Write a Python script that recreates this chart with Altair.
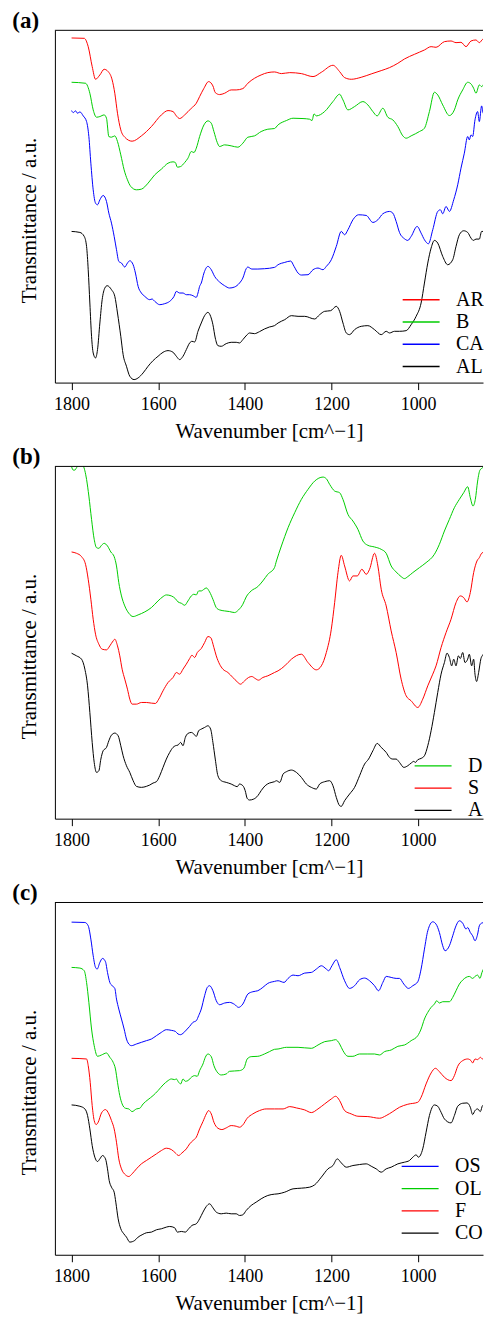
import altair as alt
import pandas as pd

# ---------------- Panel (a) ----------------
a_AR = [(1800, 103.5), (1770.8, 103.4), (1761.6, 100.9), (1752.4, 94.9), (1744.7, 91.1), (1734.7, 92.4),
        (1724.8, 94.1), (1715.5, 93.4), (1706.3, 90.9), (1700.2, 86.9), (1694.0, 80.9), (1686.4, 75.9),
        (1677.2, 73.7), (1660.3, 72.5), (1638.8, 74.1), (1615.7, 76.9), (1592.7, 80.4), (1577.3, 81.7),
        (1565.8, 81.4), (1558.1, 80.1), (1550.5, 79.3), (1538.9, 80.4), (1523.6, 82.4), (1512.1, 83.9),
        (1504.4, 85.9), (1494.4, 88.4), (1483.7, 90.4), (1473.7, 89.1), (1468.3, 87.1), (1458.3, 86.5),
        (1446.8, 86.9), (1431.5, 87.9), (1419.9, 87.9), (1404.6, 88.3), (1393.1, 89.9), (1377.7, 91.4),
        (1362.4, 92.4), (1347.0, 93.1), (1331.6, 93.3), (1315.6, 92.8), (1296.4, 93.1), (1269.5, 92.8),
        (1242.6, 91.9), (1223.4, 93.2), (1196.6, 95.3), (1181.2, 93.4), (1169.7, 91.6), (1154.3, 91.1),
        (1131.3, 91.7), (1108.3, 92.7), (1085.2, 93.7), (1066.0, 94.6), (1046.8, 95.9), (1031.5, 97.2),
        (1008.4, 98.6), (985.4, 99.9), (970.0, 100.9), (958.6, 100.7), (939.3, 102.4), (924.0, 102.6),
        (912.5, 102.1), (901.0, 102.2), (889.4, 100.9), (877.9, 102.6), (866.4, 102.9), (858.7, 102.1),
        (851.0, 103.1), (847.2, 103.3)]
a_B = [(1800, 90.2), (1767.8, 89.9), (1757.8, 86.9), (1750.1, 81.9), (1742.4, 79.7), (1734.7, 79.9),
       (1724.8, 80.4), (1719.4, 79.4), (1714.0, 73.9), (1707.9, 73.7), (1700.2, 74.1), (1694.0, 72.4),
       (1686.4, 68.4), (1678.7, 63.9), (1671.0, 60.9), (1663.3, 58.9), (1650.3, 57.9), (1638.8, 58.1),
       (1623.4, 59.9), (1608.0, 62.4), (1592.7, 64.1), (1577.3, 65.9), (1565.8, 66.3), (1560.5, 66.1),
       (1555.8, 64.7), (1548.2, 64.9), (1538.9, 66.1), (1531.3, 67.4), (1523.6, 69.4), (1517.5, 69.1),
       (1512.1, 70.4), (1504.4, 73.9), (1494.4, 77.4), (1485.2, 78.6), (1477.5, 77.9), (1471.4, 75.4),
       (1463.7, 72.1), (1458.3, 70.9), (1446.8, 71.4), (1431.5, 71.1), (1416.1, 70.7), (1404.6, 71.9),
       (1393.1, 73.7), (1377.7, 74.1), (1362.4, 75.4), (1347.0, 76.1), (1331.6, 76.3), (1323.3, 77.4),
       (1304.1, 78.7), (1288.7, 79.4), (1265.7, 79.3), (1250.3, 79.1), (1245.0, 78.7), (1240.3, 80.7),
       (1235.0, 80.1), (1215.8, 81.4), (1196.6, 84.4), (1181.2, 86.6), (1173.5, 84.9), (1162.0, 81.9),
       (1146.7, 82.9), (1127.5, 84.4), (1116.0, 83.4), (1104.4, 81.4), (1094.6, 80.1), (1081.4, 82.4),
       (1069.9, 79.7), (1058.4, 78.9), (1046.8, 76.9), (1035.3, 74.1), (1027.6, 73.4), (1016.1, 74.1),
       (996.9, 75.4), (985.4, 76.4), (973.9, 81.4), (962.4, 87.2), (954.7, 86.4), (943.2, 83.4),
       (927.8, 80.2), (916.3, 81.9), (908.6, 84.9), (897.1, 87.9), (885.6, 90.2), (877.9, 89.7),
       (871.8, 88.4), (866.4, 86.9), (858.7, 89.4), (853.4, 88.9), (847.2, 90.1)]
a_CA = [(1800, 81.7), (1796.2, 81.1), (1790.8, 81.6), (1786.2, 80.9), (1780.8, 81.3), (1773.1, 80.1),
        (1765.4, 78.4), (1760.1, 73.9), (1755.5, 65.9), (1750.1, 57.9), (1744.7, 53.9), (1740.1, 53.4),
        (1734.7, 54.9), (1727.1, 56.2), (1719.4, 54.4), (1714.0, 50.9), (1707.9, 47.9), (1701.7, 43.9),
        (1696.3, 39.9), (1691.0, 36.4), (1684.8, 35.9), (1677.2, 34.7), (1671.0, 35.9), (1665.6, 36.6),
        (1657.9, 35.4), (1652.6, 32.9), (1646.4, 28.9), (1638.8, 26.9), (1631.1, 25.9), (1619.6, 24.9),
        (1614.2, 25.1), (1608.0, 24.4), (1596.5, 23.4), (1585.0, 23.7), (1573.5, 24.4), (1563.5, 25.9),
        (1558.1, 27.4), (1550.5, 26.9), (1542.8, 26.9), (1535.1, 26.4), (1527.4, 26.4), (1519.8, 26.1),
        (1512.1, 25.6), (1508.2, 26.9), (1504.4, 28.9), (1500.6, 29.9), (1494.4, 32.9), (1485.2, 34.9),
        (1477.5, 33.9), (1469.8, 31.9), (1458.3, 30.2), (1446.8, 29.1), (1435.3, 28.4), (1423.8, 28.7),
        (1412.3, 29.9), (1404.6, 31.4), (1396.9, 34.2), (1393.1, 34.7), (1383.9, 34.1), (1370.0, 34.1),
        (1354.7, 34.2), (1331.6, 34.6), (1323.3, 35.4), (1307.9, 36.1), (1294.1, 36.5), (1286.4, 34.9),
        (1277.2, 32.9), (1269.5, 32.3), (1254.2, 32.4), (1242.6, 33.9), (1231.1, 34.4), (1219.6, 33.9),
        (1211.9, 34.9), (1200.4, 36.9), (1188.9, 40.9), (1177.4, 45.4), (1169.7, 44.4), (1162.0, 45.9),
        (1150.5, 48.9), (1137.4, 50.4), (1119.8, 50.2), (1104.4, 48.1), (1092.9, 48.9), (1081.4, 50.7),
        (1066.0, 51.4), (1058.4, 50.9), (1050.7, 48.4), (1043.0, 45.1), (1031.5, 43.2), (1023.8, 42.7),
        (1016.1, 43.9), (1002.3, 46.9), (993.1, 44.9), (985.4, 42.9), (976.2, 41.7), (966.2, 45.9),
        (954.7, 51.4), (948.6, 51.9), (943.2, 50.7), (935.5, 52.9), (927.8, 51.4), (917.8, 54.9),
        (908.6, 59.4), (901.0, 64.4), (893.3, 68.9), (885.6, 73.9), (881.8, 72.9), (877.9, 74.4),
        (874.1, 73.9), (868.7, 78.9), (862.6, 81.4), (858.7, 78.4), (853.4, 83.1), (849.5, 80.9),
        (847.2, 81.9)]
a_AL = [(1800, 45.4), (1780.8, 45.1), (1770.8, 43.9), (1765.4, 40.9), (1761.6, 33.9), (1757.8, 23.9),
        (1753.9, 13.9), (1750.1, 8.9), (1744.7, 7.4), (1740.1, 9.9), (1734.7, 17.9), (1729.4, 24.9),
        (1723.2, 28.4), (1717.8, 29.1), (1707.9, 27.9), (1700.2, 25.9), (1694.0, 20.9), (1686.4, 13.9),
        (1681.0, 8.4), (1673.3, 4.9), (1665.6, 1.9), (1655.7, 0.9), (1646.4, 1.4), (1634.9, 2.9),
        (1623.4, 4.9), (1611.9, 6.6), (1600.4, 7.9), (1588.9, 9.1), (1577.3, 9.6), (1565.8, 9.1),
        (1558.1, 7.9), (1550.5, 6.9), (1542.8, 7.9), (1535.1, 9.9), (1527.4, 11.9), (1522.1, 12.4),
        (1515.9, 12.2), (1508.2, 15.4), (1500.6, 17.9), (1492.9, 20.1), (1485.2, 21.1), (1479.0, 19.9),
        (1473.7, 17.4), (1468.3, 13.4), (1462.2, 11.1), (1454.5, 10.9), (1443.0, 11.7), (1431.5, 12.1),
        (1419.9, 12.1), (1412.3, 11.9), (1404.6, 12.9), (1394.6, 14.4), (1389.2, 14.9), (1377.7, 14.7),
        (1366.2, 15.3), (1354.7, 16.1), (1343.2, 16.7), (1331.6, 17.1), (1323.3, 17.9), (1307.9, 18.9),
        (1292.5, 20.1), (1277.2, 19.9), (1261.8, 19.9), (1238.8, 19.1), (1227.3, 20.4), (1215.8, 21.4),
        (1201.9, 21.6), (1188.9, 22.9), (1181.2, 21.4), (1173.5, 17.9), (1165.8, 14.9), (1158.2, 14.4),
        (1146.7, 15.9), (1131.3, 16.9), (1116.0, 17.1), (1100.6, 15.9), (1085.2, 14.4), (1073.7, 15.4),
        (1066.0, 14.9), (1054.5, 15.4), (1043.0, 15.4), (1027.6, 15.6), (1016.1, 17.4), (1004.6, 19.9),
        (993.1, 23.9), (985.4, 29.9), (977.7, 35.9), (970.0, 40.4), (962.4, 42.7), (954.7, 41.9),
        (943.2, 37.9), (931.7, 35.4), (920.1, 36.9), (912.5, 40.9), (904.8, 44.4), (894.8, 45.6),
        (885.6, 45.1), (877.9, 43.4), (872.6, 42.7), (866.4, 43.1), (858.7, 43.1), (853.4, 45.4),
        (847.2, 45.4)]

# ---------------- Panel (b) ----------------
b_D = [(1800, 105.7), (1796.2, 104.7), (1792.3, 104.7), (1788.5, 105.4), (1780.8, 106.6), (1773.1, 105.9),
       (1765.4, 101.9), (1760.1, 96.9), (1753.9, 89.9), (1747.8, 83.9), (1742.4, 81.4), (1737.0, 81.2),
       (1730.9, 82.1), (1724.8, 82.7), (1717.1, 81.9), (1709.4, 80.1), (1701.7, 78.7), (1696.3, 75.9),
       (1691.0, 70.9), (1684.8, 66.9), (1677.2, 63.9), (1667.9, 61.7), (1657.9, 60.7), (1646.4, 61.2),
       (1631.1, 62.1), (1615.7, 63.4), (1600.4, 65.4), (1588.9, 66.7), (1581.2, 67.2), (1569.7, 66.9),
       (1560.5, 66.1), (1554.3, 65.1), (1546.6, 64.7), (1538.9, 64.1), (1531.3, 65.4), (1523.6, 66.9),
       (1517.5, 67.4), (1512.1, 67.2), (1506.7, 68.4), (1500.6, 68.4), (1494.4, 68.9), (1489.0, 69.3),
       (1481.4, 68.1), (1473.7, 65.9), (1466.0, 63.4), (1458.3, 62.7), (1446.8, 62.4), (1435.3, 62.2),
       (1423.8, 61.9), (1414.6, 62.7), (1404.6, 64.4), (1396.9, 66.6), (1385.4, 68.4), (1370.0, 69.7),
       (1358.5, 71.4), (1347.0, 73.4), (1331.6, 75.4), (1327.1, 77.4), (1315.6, 81.9), (1300.2, 87.4),
       (1284.9, 91.9), (1269.5, 95.9), (1254.2, 98.9), (1238.8, 101.4), (1219.6, 102.6), (1211.9, 102.1),
       (1204.2, 100.4), (1192.7, 98.4), (1181.2, 97.9), (1173.5, 95.9), (1162.0, 91.4), (1150.5, 89.4),
       (1139.0, 86.9), (1127.5, 83.4), (1116.0, 82.1), (1100.6, 81.6), (1085.2, 80.9), (1073.7, 79.7),
       (1062.2, 75.9), (1050.7, 74.1), (1039.2, 72.7), (1031.5, 72.1), (1023.8, 72.7), (1012.3, 73.9),
       (996.9, 75.4), (981.6, 76.9), (962.4, 79.4), (950.9, 82.4), (939.3, 86.4), (927.8, 89.9),
       (916.3, 93.4), (904.8, 95.9), (894.8, 97.9), (885.6, 99.7), (879.5, 96.4), (873.3, 93.9),
       (867.9, 95.9), (862.6, 101.4), (857.2, 104.7), (851.0, 105.4), (847.2, 105.9)]
b_S = [(1800, 80.1), (1788.5, 79.7), (1777.0, 78.7), (1767.8, 76.4), (1761.6, 71.9), (1755.5, 65.9),
       (1750.1, 59.9), (1744.7, 55.4), (1737.0, 52.4), (1729.4, 50.9), (1719.4, 50.7), (1711.7, 51.9),
       (1704.0, 53.4), (1700.2, 53.9), (1694.0, 51.9), (1688.7, 48.9), (1683.3, 44.9), (1677.2, 41.9),
       (1671.0, 38.9), (1665.6, 35.9), (1660.3, 34.4), (1650.3, 34.4), (1638.8, 34.9), (1627.3, 34.9),
       (1615.7, 34.7), (1606.5, 34.6), (1598.8, 35.9), (1588.9, 38.4), (1577.3, 40.9), (1565.8, 42.4),
       (1558.1, 43.9), (1550.5, 43.4), (1542.8, 44.9), (1535.1, 46.4), (1527.4, 48.1), (1522.1, 49.1),
       (1515.9, 48.4), (1509.8, 49.9), (1500.6, 51.1), (1492.9, 52.9), (1485.2, 54.7), (1479.0, 54.4),
       (1471.4, 51.4), (1466.0, 48.9), (1458.3, 46.4), (1450.6, 44.9), (1439.1, 43.9), (1427.6, 42.4),
       (1417.6, 41.1), (1410.0, 40.4), (1400.7, 41.4), (1391.5, 42.4), (1383.9, 42.7), (1376.1, 42.1),
       (1368.5, 41.6), (1358.5, 42.4), (1347.0, 42.9), (1331.6, 43.9), (1323.3, 44.4), (1307.9, 45.9),
       (1292.5, 47.9), (1269.5, 49.4), (1254.2, 46.9), (1235.0, 44.7), (1223.4, 45.9), (1211.9, 49.9),
       (1200.4, 56.9), (1192.7, 64.9), (1185.0, 73.9), (1177.4, 79.1), (1169.7, 75.9), (1158.2, 71.4),
       (1150.5, 72.9), (1140.5, 72.9), (1129.8, 74.9), (1119.8, 73.4), (1112.1, 74.9), (1100.6, 79.7),
       (1092.9, 75.9), (1085.2, 68.9), (1073.7, 63.9), (1062.2, 56.4), (1050.7, 49.9), (1039.2, 41.9),
       (1027.6, 36.9), (1016.1, 35.4), (1000.8, 33.4), (989.3, 35.9), (977.7, 39.9), (966.2, 43.4),
       (958.6, 45.9), (947.0, 51.4), (935.5, 55.9), (924.0, 59.9), (912.5, 64.9), (902.5, 66.9),
       (894.8, 66.4), (887.1, 65.1), (879.5, 67.9), (871.8, 73.9), (864.1, 77.4), (858.7, 78.4),
       (853.4, 79.7), (847.2, 80.1)]
b_A = [(1800, 49.7), (1788.5, 48.9), (1777.0, 47.9), (1769.3, 44.9), (1763.1, 39.9), (1757.8, 31.9),
       (1752.4, 22.9), (1747.8, 16.9), (1742.4, 13.9), (1737.0, 14.4), (1732.4, 17.9), (1727.1, 20.4),
       (1719.4, 21.4), (1714.0, 23.4), (1707.9, 25.1), (1700.2, 25.7), (1692.5, 24.9), (1686.4, 21.9),
       (1681.0, 18.9), (1673.3, 15.9), (1665.6, 13.9), (1657.9, 11.4), (1650.3, 9.7), (1638.8, 9.4),
       (1627.3, 9.7), (1619.6, 10.1), (1611.9, 10.7), (1604.2, 11.1), (1596.5, 12.9), (1588.9, 15.4),
       (1581.2, 17.9), (1573.5, 19.9), (1565.8, 21.4), (1560.5, 21.9), (1554.3, 22.1), (1548.2, 22.9),
       (1542.8, 21.9), (1537.4, 24.4), (1531.3, 25.6), (1523.6, 25.9), (1517.5, 25.4), (1512.1, 24.7),
       (1506.7, 26.4), (1500.6, 26.9), (1492.9, 27.4), (1485.2, 27.9), (1479.0, 26.9), (1473.7, 22.9),
       (1468.3, 17.9), (1462.2, 12.9), (1454.5, 11.4), (1443.0, 10.9), (1431.5, 10.4), (1423.8, 9.9),
       (1417.6, 9.6), (1412.3, 10.4), (1404.6, 9.9), (1399.2, 8.4), (1394.6, 6.1), (1389.2, 5.6),
       (1379.3, 5.9), (1370.0, 6.9), (1362.4, 8.4), (1353.1, 9.9), (1343.2, 10.7), (1331.6, 11.1),
       (1327.1, 11.4), (1319.4, 10.9), (1311.7, 13.4), (1304.1, 14.1), (1292.5, 14.6), (1281.0, 13.9),
       (1269.5, 12.4), (1258.0, 10.4), (1246.5, 9.4), (1235.0, 8.9), (1227.3, 10.4), (1215.8, 11.1),
       (1204.2, 11.4), (1196.6, 9.9), (1188.9, 6.4), (1181.2, 3.9), (1177.4, 3.7), (1169.7, 5.4),
       (1158.2, 7.4), (1146.7, 9.4), (1135.1, 12.9), (1123.6, 16.4), (1114.4, 17.9), (1104.4, 20.4),
       (1094.4, 22.6), (1085.2, 21.4), (1073.7, 19.9), (1066.0, 18.4), (1058.4, 17.9), (1050.7, 17.9),
       (1043.0, 16.9), (1033.0, 15.4), (1023.8, 15.9), (1016.1, 16.7), (1010.0, 17.2), (1006.1, 16.9),
       (1000.8, 17.7), (993.1, 18.1), (985.4, 18.9), (977.7, 21.9), (970.0, 26.4), (962.4, 31.9),
       (954.7, 37.9), (947.0, 43.4), (939.3, 46.9), (933.2, 49.7), (927.8, 48.4), (922.5, 45.9),
       (917.8, 47.9), (912.5, 45.9), (907.1, 48.9), (902.5, 48.1), (897.1, 49.9), (891.8, 46.9),
       (885.6, 47.9), (881.8, 49.4), (876.4, 45.9), (871.8, 47.9), (868.7, 43.4), (864.9, 41.2),
       (860.3, 43.9), (854.9, 48.1), (851.0, 49.1), (847.2, 49.7)]

# ---------------- Panel (c) ----------------
c_OS = [(1800, 99.9), (1769.3, 99.8), (1761.6, 98.8), (1755.5, 94.8), (1750.1, 89.8), (1744.7, 86.3),
        (1740.9, 85.8), (1734.7, 87.8), (1728.6, 89.0), (1721.7, 88.0), (1717.1, 84.8), (1711.7, 81.8),
        (1706.3, 80.8), (1700.2, 80.0), (1696.3, 76.8), (1691.0, 73.8), (1684.8, 70.8), (1678.7, 67.8),
        (1673.3, 64.8), (1665.6, 63.0), (1661.8, 62.8), (1650.3, 63.3), (1638.8, 63.8), (1627.3, 64.3),
        (1615.7, 64.8), (1604.2, 65.8), (1592.7, 66.8), (1581.2, 67.6), (1569.7, 67.4), (1560.5, 67.1),
        (1554.3, 66.3), (1548.2, 66.1), (1542.8, 66.5), (1535.1, 67.5), (1527.4, 68.6), (1519.8, 69.8),
        (1512.1, 70.3), (1506.7, 71.8), (1500.6, 73.8), (1492.9, 77.8), (1486.7, 80.3), (1481.4, 80.8),
        (1473.7, 79.3), (1466.0, 76.3), (1458.3, 75.1), (1446.8, 75.6), (1435.3, 75.8), (1423.8, 75.2),
        (1414.6, 74.3), (1404.6, 75.3), (1393.1, 78.3), (1381.6, 79.0), (1370.0, 79.3), (1358.5, 80.3),
        (1347.0, 81.5), (1331.6, 82.1), (1323.3, 82.3), (1309.4, 81.8), (1300.2, 83.0), (1288.7, 84.0),
        (1277.2, 83.8), (1261.8, 84.6), (1246.5, 84.8), (1235.0, 85.8), (1223.4, 86.8), (1211.9, 85.8),
        (1206.5, 85.3), (1198.9, 86.8), (1188.9, 88.6), (1181.2, 86.3), (1169.7, 82.3), (1158.2, 80.0),
        (1146.7, 80.8), (1135.1, 82.6), (1123.6, 83.1), (1112.1, 82.3), (1100.6, 80.8), (1091.4, 79.3),
        (1081.4, 81.8), (1073.7, 83.6), (1062.2, 83.3), (1050.7, 83.0), (1043.0, 83.0), (1033.0, 81.3),
        (1022.3, 80.0), (1012.3, 80.8), (1000.8, 82.0), (993.1, 85.8), (985.4, 91.8), (977.7, 97.3),
        (966.2, 100.0), (958.6, 99.3), (950.9, 96.8), (943.2, 92.8), (937.8, 91.3), (927.8, 92.8),
        (920.1, 95.8), (912.5, 98.8), (904.8, 100.3), (897.1, 99.6), (889.4, 97.8), (885.6, 98.3),
        (879.5, 96.8), (874.1, 95.8), (868.7, 94.3), (862.6, 96.3), (858.7, 98.8), (853.4, 99.6),
        (847.2, 99.8)]
c_OL = [(1800, 86.3), (1780.8, 86.1), (1770.8, 85.3), (1765.4, 81.8), (1760.1, 75.8), (1753.9, 67.8),
        (1747.8, 62.8), (1740.1, 59.6), (1730.9, 60.0), (1719.4, 60.6), (1711.7, 59.3), (1704.0, 57.8),
        (1698.7, 55.8), (1694.0, 51.8), (1688.7, 47.8), (1683.3, 45.3), (1675.6, 44.0), (1667.9, 43.8),
        (1660.3, 43.0), (1650.3, 43.8), (1642.6, 44.0), (1634.9, 45.3), (1623.4, 46.6), (1611.9, 47.8),
        (1600.4, 49.3), (1588.9, 51.0), (1577.3, 52.3), (1569.7, 52.8), (1562.0, 52.6), (1558.1, 52.8),
        (1552.8, 51.8), (1548.2, 51.3), (1542.8, 52.8), (1537.4, 52.1), (1531.3, 52.3), (1523.6, 53.3),
        (1515.9, 53.8), (1509.8, 53.6), (1504.4, 55.3), (1496.7, 57.3), (1491.3, 59.3), (1485.2, 60.3),
        (1477.5, 59.5), (1471.4, 56.8), (1462.2, 54.6), (1454.5, 54.0), (1443.0, 54.3), (1435.3, 55.1),
        (1423.8, 55.2), (1412.3, 55.3), (1402.3, 56.0), (1394.6, 58.8), (1385.4, 59.5), (1370.0, 59.6),
        (1354.7, 60.3), (1343.2, 61.0), (1331.6, 61.7), (1323.3, 61.8), (1304.1, 62.3), (1277.2, 62.3),
        (1246.5, 62.0), (1231.1, 63.0), (1215.8, 64.0), (1200.4, 64.3), (1190.4, 64.6), (1181.2, 63.3),
        (1173.5, 61.3), (1162.0, 59.6), (1150.5, 59.6), (1135.1, 60.3), (1116.0, 60.3), (1100.6, 60.3),
        (1089.1, 60.0), (1077.6, 61.0), (1062.2, 61.5), (1046.8, 62.6), (1031.5, 63.0), (1016.1, 64.3),
        (1000.8, 65.8), (993.1, 67.8), (985.4, 70.8), (977.7, 72.8), (970.0, 74.3), (962.4, 75.3),
        (957.0, 76.3), (950.9, 75.6), (943.2, 76.0), (927.8, 76.0), (920.1, 77.3), (912.5, 79.3),
        (904.8, 81.3), (897.1, 82.5), (889.4, 83.3), (881.8, 83.6), (874.1, 83.0), (868.7, 83.6),
        (862.6, 84.0), (857.2, 83.0), (852.6, 84.8), (847.2, 86.3)]
c_F = [(1800, 59.0), (1765.4, 58.8), (1761.6, 56.8), (1757.0, 51.8), (1752.4, 44.8), (1747.8, 40.3),
       (1743.2, 39.1), (1738.6, 39.8), (1730.9, 42.6), (1721.7, 43.6), (1714.0, 42.3), (1707.9, 40.3),
       (1701.7, 37.8), (1696.3, 33.8), (1691.0, 28.8), (1684.8, 25.8), (1675.6, 24.0), (1667.9, 23.5),
       (1660.3, 24.3), (1650.3, 25.8), (1638.8, 27.3), (1627.3, 28.3), (1615.7, 29.3), (1604.2, 30.3),
       (1592.7, 31.3), (1581.2, 32.0), (1569.7, 31.6), (1560.5, 30.6), (1552.8, 29.8), (1545.1, 30.6),
       (1535.1, 31.8), (1527.4, 33.3), (1519.8, 34.3), (1512.1, 35.3), (1504.4, 37.8), (1496.7, 40.0),
       (1489.0, 42.3), (1483.7, 43.3), (1477.5, 42.3), (1471.4, 39.8), (1462.2, 38.0), (1453.0, 37.6),
       (1443.0, 38.1), (1431.5, 38.8), (1419.9, 38.6), (1412.3, 38.3), (1404.6, 39.0), (1394.6, 41.0),
       (1381.6, 42.3), (1366.2, 43.3), (1350.9, 43.8), (1331.6, 43.8), (1323.3, 43.8), (1311.7, 43.8),
       (1296.4, 44.5), (1281.0, 44.1), (1261.8, 43.5), (1246.5, 42.7), (1231.1, 43.8), (1215.8, 45.3),
       (1200.4, 46.8), (1190.4, 47.6), (1181.2, 46.3), (1169.7, 43.3), (1154.3, 42.3), (1139.0, 41.6),
       (1116.0, 41.5), (1089.1, 41.0), (1073.7, 41.8), (1058.4, 43.0), (1043.0, 44.3), (1023.8, 45.2),
       (1000.8, 45.8), (993.1, 47.3), (981.6, 51.3), (970.0, 54.6), (960.1, 56.0), (950.9, 55.0),
       (939.3, 53.3), (924.0, 52.3), (916.3, 53.8), (908.6, 56.6), (897.1, 58.3), (885.6, 58.8),
       (877.9, 58.3), (874.1, 57.6), (868.7, 58.8), (862.6, 58.6), (856.4, 59.3), (851.0, 58.8),
       (847.2, 59.1)]
c_CO = [(1800, 45.0), (1780.8, 44.6), (1769.3, 43.8), (1763.1, 41.8), (1757.8, 37.8), (1752.4, 32.8),
        (1746.3, 29.3), (1740.1, 28.0), (1734.7, 28.8), (1728.6, 29.8), (1721.7, 28.8), (1717.1, 25.8),
        (1713.2, 22.3), (1707.9, 20.3), (1701.7, 18.8), (1697.9, 15.8), (1692.5, 10.8), (1686.4, 7.8),
        (1679.5, 6.3), (1673.3, 5.3), (1665.6, 3.8), (1654.1, 4.3), (1646.4, 5.3), (1637.2, 6.0),
        (1627.3, 6.6), (1615.7, 6.8), (1604.2, 7.5), (1592.7, 7.8), (1581.2, 8.3), (1573.5, 8.5),
        (1562.0, 8.1), (1555.8, 6.8), (1546.6, 7.0), (1537.4, 6.8), (1529.7, 7.8), (1522.1, 8.8),
        (1512.1, 9.3), (1504.4, 10.8), (1496.7, 12.8), (1489.0, 14.5), (1481.4, 15.3), (1473.7, 14.1),
        (1466.0, 12.8), (1454.5, 12.3), (1443.0, 12.5), (1431.5, 12.3), (1419.9, 12.3), (1412.3, 11.8),
        (1404.6, 12.0), (1396.9, 13.3), (1385.4, 14.8), (1373.9, 15.8), (1362.4, 16.8), (1347.0, 17.8),
        (1331.6, 18.2), (1323.3, 18.3), (1307.9, 18.8), (1288.7, 19.8), (1269.5, 20.0), (1250.3, 20.3),
        (1238.8, 21.0), (1223.4, 23.3), (1208.1, 25.8), (1196.6, 26.8), (1186.6, 28.8), (1177.4, 27.6),
        (1165.8, 26.3), (1150.5, 26.8), (1135.1, 27.1), (1119.8, 27.3), (1108.3, 26.6), (1096.8, 25.8),
        (1085.2, 24.8), (1073.7, 25.8), (1062.2, 26.3), (1046.8, 27.3), (1031.5, 27.8), (1020.0, 28.3),
        (1012.3, 29.3), (1004.6, 30.0), (999.3, 29.3), (989.3, 31.8), (981.6, 36.8), (973.9, 41.8),
        (962.4, 45.0), (954.7, 44.6), (947.0, 42.8), (939.3, 40.8), (924.0, 39.6), (916.3, 41.8),
        (908.6, 44.6), (897.1, 45.5), (887.1, 45.6), (879.5, 44.3), (874.1, 42.1), (868.7, 43.3),
        (862.6, 43.8), (856.4, 43.0), (851.0, 44.8), (847.2, 44.6)]

x_ticks = [1800, 1600, 1400, 1200, 1000]
RED, GREEN, BLUE, BLACK = "#FF0000", "#00CD00", "#0000FF", "#000000"

FONT = "Liberation Serif"
W, H = 429, 353
XDOM = [850.2, 1838.5]
YDOM = [0, 105.8]


def to_df(series):
    rows = []
    for name, pts in series:
        for w, t in pts:
            rows.append({"wavenumber": w, "transmittance": t, "sample": name})
    return pd.DataFrame(rows)


def panel(series, colors, label, lx, ly):
    names = [n for n, _ in series]
    df = to_df(series)
    xs = alt.Scale(domain=XDOM, reverse=True, nice=False, zero=False)
    ys = alt.Scale(domain=YDOM, nice=False, zero=False)
    x_axis = alt.Axis(values=x_ticks, title="Wavenumber [cm^\u22121]", grid=False,
                      tickSize=7, labelPadding=6, titlePadding=7, labelFlush=False,
                      format="d", minExtent=0)
    y_axis = alt.Axis(title="Transmittance / a.u.", labels=False, ticks=False, grid=False,
                      titlePadding=15, titleY=190, minExtent=0)
    lines = alt.Chart(df).mark_line(strokeWidth=1, clip=True, interpolate="monotone").encode(
        x=alt.X("wavenumber:Q", scale=xs, axis=x_axis),
        y=alt.Y("transmittance:Q", scale=ys, axis=y_axis),
        color=alt.Color("sample:N", sort=names,
                        scale=alt.Scale(domain=names, range=colors),
                        legend=alt.Legend(orient="none", legendX=lx, legendY=ly, title=None,
                                          symbolType="M-3.7,0H3.7", symbolSize=100,
                                          symbolStrokeWidth=1.3, labelOffset=25,
                                          labelFontSize=20, labelFont=FONT, labelColor="black",
                                          rowPadding=2.3, padding=0)),
    )
    # top edge of the plot frame (the frame is open on the right, as in the figure)
    edge = pd.DataFrame({"wavenumber": [XDOM[1]], "wavenumber_end": [XDOM[0]],
                         "transmittance": [YDOM[1]]})
    top = alt.Chart(edge).mark_rule(color="black", strokeWidth=1).encode(
        x=alt.X("wavenumber:Q", scale=xs, axis=x_axis),
        x2="wavenumber_end:Q",
        y=alt.Y("transmittance:Q", scale=ys, axis=y_axis),
    )
    return alt.layer(lines, top).properties(
        width=W, height=H,
        title=alt.TitleParams(text=label, anchor="start", frame="group", dx=-42.7, offset=-21,
                              font=FONT, fontSize=23, fontWeight="bold", color="black",
                              baseline="alphabetic"),
    )


pa = panel([("AR", a_AR), ("B", a_B), ("CA", a_CA), ("AL", a_AL)],
           [RED, GREEN, BLUE, BLACK], "(a)", 357, 260)
pb = panel([("D", b_D), ("S", b_S), ("A", b_A)],
           [GREEN, RED, BLACK], "(b)", 369, 290)
pc = panel([("OS", c_OS), ("OL", c_OL), ("F", c_F), ("CO", c_CO)],
           [BLUE, GREEN, RED, BLACK], "(c)", 356, 254.5)

chart = alt.vconcat(pa, pb, pc, spacing=4).resolve_scale(color="independent").properties(
    padding={"left": 4, "top": 0, "right": 0, "bottom": 0}
).configure_view(strokeOpacity=0).configure_axis(
    domainColor="black", domainWidth=1, tickColor="black", tickWidth=1,
    labelFont=FONT, labelFontSize=18, labelColor="black",
    titleFont=FONT, titleFontSize=21, titleFontWeight="normal", titleColor="black",
)

chart.save("out.html", embed_options={"renderer": "svg", "actions": False})
